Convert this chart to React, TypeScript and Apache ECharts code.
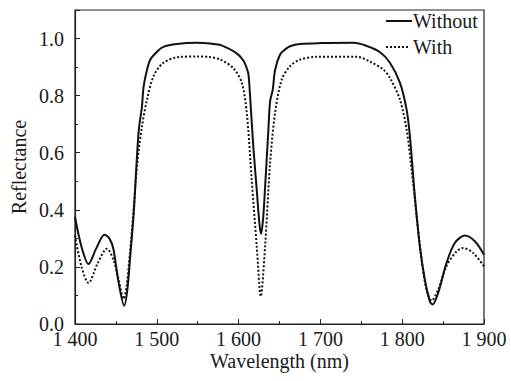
import React, { useEffect, useRef } from "react";
import * as echarts from "echarts";

const withoutWl = [1400, 1408, 1416.5, 1426, 1436, 1442, 1447, 1453, 1460.2, 1464, 1467.5, 1471.6, 1475, 1478, 1481.8, 1483.8, 1488, 1492, 1500, 1508, 1524.5, 1549, 1565, 1577, 1586, 1594, 1601, 1606, 1609.5, 1612, 1614, 1618, 1622.2, 1625.5, 1627.5, 1630, 1632.4, 1636.4, 1638.5, 1641.7, 1644.6, 1650.7, 1657, 1662.9, 1675, 1700, 1740, 1756, 1773, 1785, 1797.3, 1805.4, 1809.4, 1815.5, 1821.6, 1827.7, 1833.8, 1837.1, 1844, 1854.2, 1864.3, 1876.6, 1888.8, 1900];
const withoutR = [0.375, 0.27, 0.21, 0.265, 0.313, 0.3, 0.262, 0.15, 0.064, 0.12, 0.237, 0.38, 0.55, 0.68, 0.76, 0.83, 0.89, 0.926, 0.953, 0.971, 0.981, 0.985, 0.983, 0.978, 0.967, 0.955, 0.94, 0.922, 0.9, 0.875, 0.8, 0.62, 0.47, 0.35, 0.316, 0.37, 0.48, 0.68, 0.78, 0.82, 0.89, 0.944, 0.962, 0.973, 0.981, 0.984, 0.985, 0.975, 0.952, 0.915, 0.845, 0.751, 0.658, 0.447, 0.272, 0.155, 0.079, 0.068, 0.109, 0.214, 0.284, 0.31, 0.29, 0.243];

const withWl = [1400, 1408, 1416.5, 1428, 1439, 1447, 1453, 1459.5, 1463, 1467.5, 1471.6, 1476, 1481.8, 1488, 1496, 1508, 1528.6, 1549, 1565, 1578, 1594, 1603.9, 1610, 1616, 1622.2, 1627.1, 1632.4, 1638.5, 1644.6, 1652.7, 1662.9, 1675, 1695, 1745, 1760, 1777, 1785, 1797.3, 1805.4, 1811.5, 1817.6, 1823.7, 1829.8, 1836, 1844, 1854, 1866.4, 1874.5, 1886.7, 1900];
const withR = [0.31, 0.2, 0.144, 0.215, 0.264, 0.225, 0.16, 0.088, 0.13, 0.26, 0.4, 0.56, 0.69, 0.786, 0.868, 0.915, 0.936, 0.937, 0.935, 0.926, 0.895, 0.845, 0.74, 0.506, 0.272, 0.097, 0.272, 0.564, 0.74, 0.856, 0.903, 0.926, 0.936, 0.936, 0.92, 0.891, 0.862, 0.786, 0.681, 0.541, 0.377, 0.225, 0.12, 0.082, 0.12, 0.202, 0.254, 0.266, 0.249, 0.202];

const seriesNames = ["Without", "With"];

const FONT = "Liberation Serif";
const TXT = "#1a1a1a";

export default function App() {
  const ref = useRef<HTMLDivElement>(null);
  useEffect(() => {
    if (!ref.current) return;
    const chart = echarts.init(ref.current, null, { renderer: "svg" });
    const fmtX = (v: number) => {
      const s = String(Math.round(v));
      return s.length > 3 ? s.slice(0, s.length - 3) + " " + s.slice(s.length - 3) : s;
    };
    chart.setOption({
      animation: false,
      backgroundColor: "#fff",
      textStyle: { fontFamily: FONT },
      grid: {
        left: 75,
        right: 27,
        top: 10,
        bottom: 57,
        show: true,
        borderColor: "#222",
        borderWidth: 1.2,
      },
      graphic: [
        { type: "line", shape: { x1: 386, y1: 21, x2: 412, y2: 21 }, style: { stroke: "#111", lineWidth: 2 } },
        { type: "text", x: 413, y: 21, style: { text: seriesNames[0], fontFamily: FONT, fontSize: 20, fill: TXT, verticalAlign: "middle" } },
        { type: "line", shape: { x1: 386, y1: 47, x2: 410, y2: 47 }, style: { stroke: "#111", lineWidth: 2, lineDash: [2, 2] } },
        { type: "text", x: 413, y: 47, style: { text: seriesNames[1], fontFamily: FONT, fontSize: 20, fill: TXT, verticalAlign: "middle" } },
      ],
      xAxis: {
        type: "value",
        min: 1400,
        max: 1900,
        interval: 100,
        name: "Wavelength (nm)",
        nameLocation: "middle",
        nameGap: 27,
        nameMoveOverlap: false,
        nameTextStyle: { fontFamily: FONT, fontSize: 20, color: TXT, verticalAlign: "top" },
        axisLine: { lineStyle: { color: "#222", width: 1.2 } },
        axisTick: { inside: true, length: 5, lineStyle: { color: "#222" } },
        minorTick: { show: true, splitNumber: 2, length: 3, lineStyle: { color: "#222" } },
        splitLine: { show: false },
        axisLabel: { fontFamily: FONT, fontSize: 20, color: TXT, margin: 5, formatter: fmtX },
      },
      yAxis: {
        type: "value",
        min: 0,
        max: 1.1,
        interval: 0.2,
        name: "Reflectance",
        nameLocation: "middle",
        nameGap: 46,
        nameMoveOverlap: false,
        nameTextStyle: { fontFamily: FONT, fontSize: 20, color: TXT },
        axisLine: { show: true, lineStyle: { color: "#222", width: 1.2 } },
        axisTick: { show: true, inside: true, length: 5, lineStyle: { color: "#222" } },
        minorTick: { show: true, splitNumber: 2, length: 3, lineStyle: { color: "#222" } },
        splitLine: { show: false },
        axisLabel: {
          fontFamily: FONT,
          fontSize: 20,
          color: TXT,
          margin: 11,
          showMaxLabel: false,
          formatter: (v: number) => (v > 1.05 ? "" : v.toFixed(1)),
        },
      },
      series: [
        {
          name: seriesNames[0],
          type: "line",
          smooth: 0.3,
          showSymbol: false,
          symbol: "none",
          lineStyle: { color: "#111", width: 2, type: "solid" },
          data: withoutWl.map((w, i) => [w, withoutR[i]]),
        },
        {
          name: seriesNames[1],
          type: "line",
          smooth: 0.3,
          showSymbol: false,
          symbol: "none",
          lineStyle: { color: "#111", width: 2, type: [2, 2] },
          data: withWl.map((w, i) => [w, withR[i]]),
        },
      ],
    });
    return () => chart.dispose();
  }, []);
  return <div ref={ref} style={{ width: 511, height: 381, position: "absolute", left: 0, top: 0 }} />;
}
